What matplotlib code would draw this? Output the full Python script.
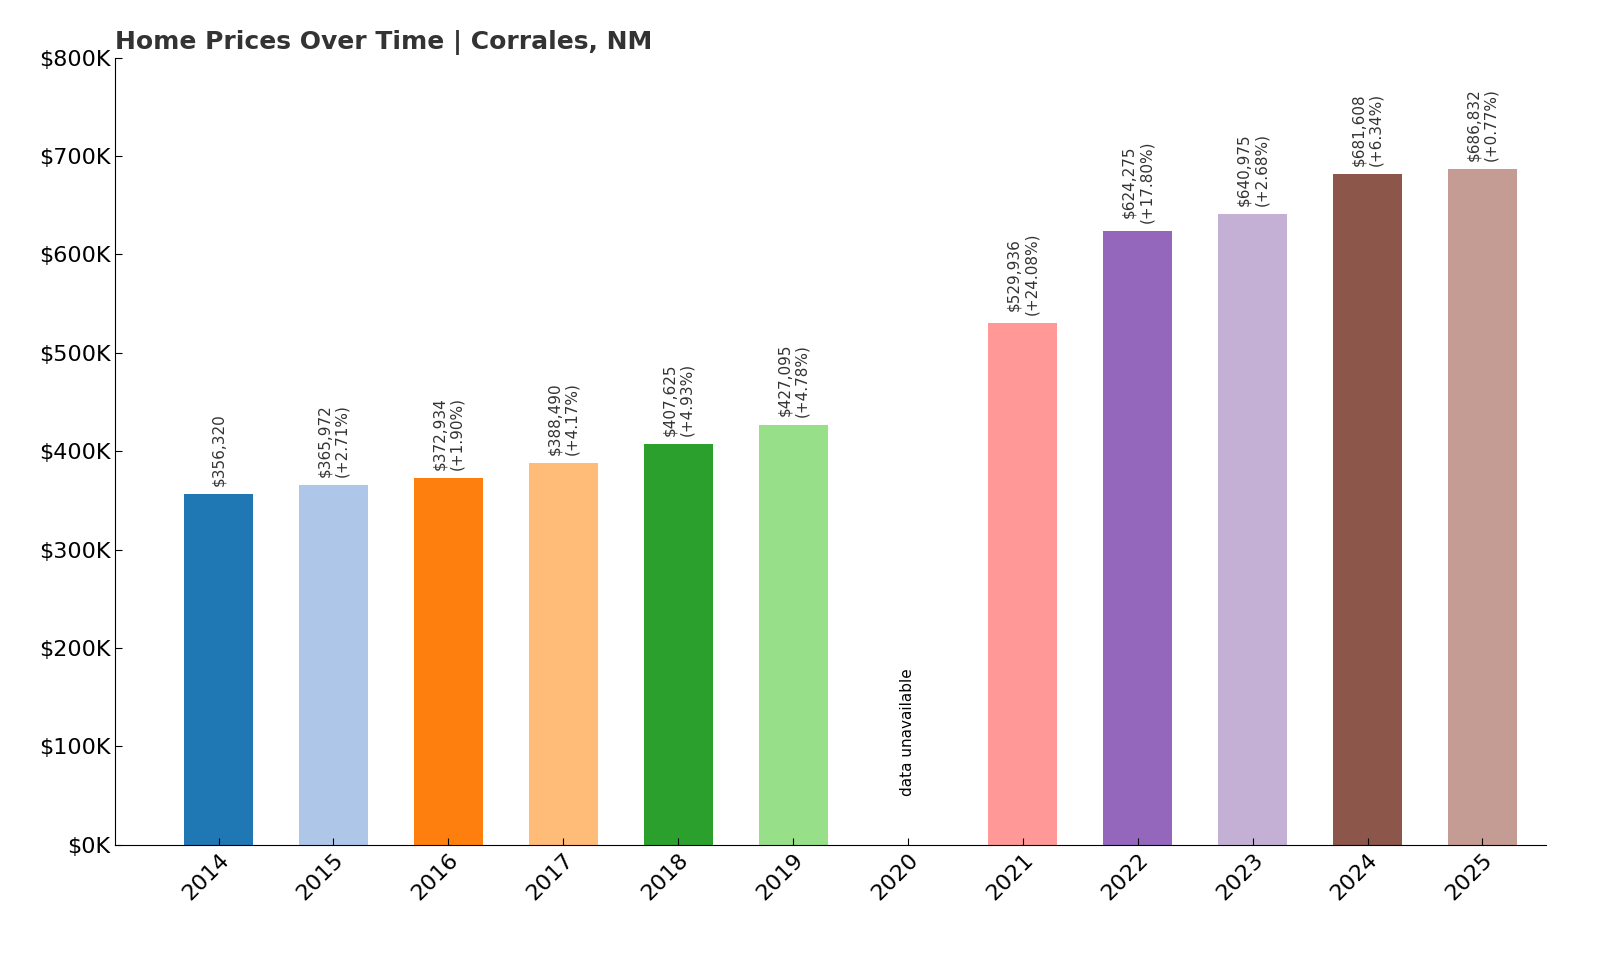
import numpy as np
import matplotlib.pyplot as plt

years = ['2014', '2015', '2016', '2017', '2018', '2019', '2020',
         '2021', '2022', '2023', '2024', '2025']
prices = [356320, 365972, 372934, 388490, 407625, 427095, None,
          529936, 624275, 640975, 681608, 686832]
changes = [None, 2.71, 1.90, 4.17, 4.93, 4.78, None,
           24.08, 17.80, 2.68, 6.34, 0.77]

colors = plt.cm.tab20.colors

fig, ax = plt.subplots(figsize=(16, 9.6), dpi=100)
fig.subplots_adjust(left=0.072, right=0.966, top=0.94, bottom=0.12)

x = np.arange(len(years))
for i, (p, c) in enumerate(zip(prices, changes)):
    if p is None:
        ax.text(i, 50000, 'data unavailable', rotation=90, ha='center',
                va='bottom', fontsize=11)
        continue
    ax.bar(i, p, width=0.6, color=colors[i])
    lbl = f'${p:,}' if c is None else f'${p:,}\n(+{c:.2f}%)'
    ax.text(i, p + 8000, lbl, rotation=90, ha='center', va='bottom',
            fontsize=11, color='#333333')

ax.set_xticks(x)
ax.set_xticklabels(years, rotation=45, ha='right', rotation_mode='anchor',
                   fontsize=16)
ax.set_ylim(0, 800000)
ax.set_xlim(-0.9, 11.55)
ax.set_yticks(np.arange(0, 800001, 100000))
ax.set_yticklabels([f'${int(v/1000)}K' for v in np.arange(0, 800001, 100000)],
                   fontsize=16)
ax.tick_params(direction='in', length=5)
for s in ['top', 'right']:
    ax.spines[s].set_visible(False)
ax.set_title('Home Prices Over Time | Corrales, NM', loc='left',
             fontsize=18, fontweight='bold', color='#333333')

fig.savefig('out.png')
